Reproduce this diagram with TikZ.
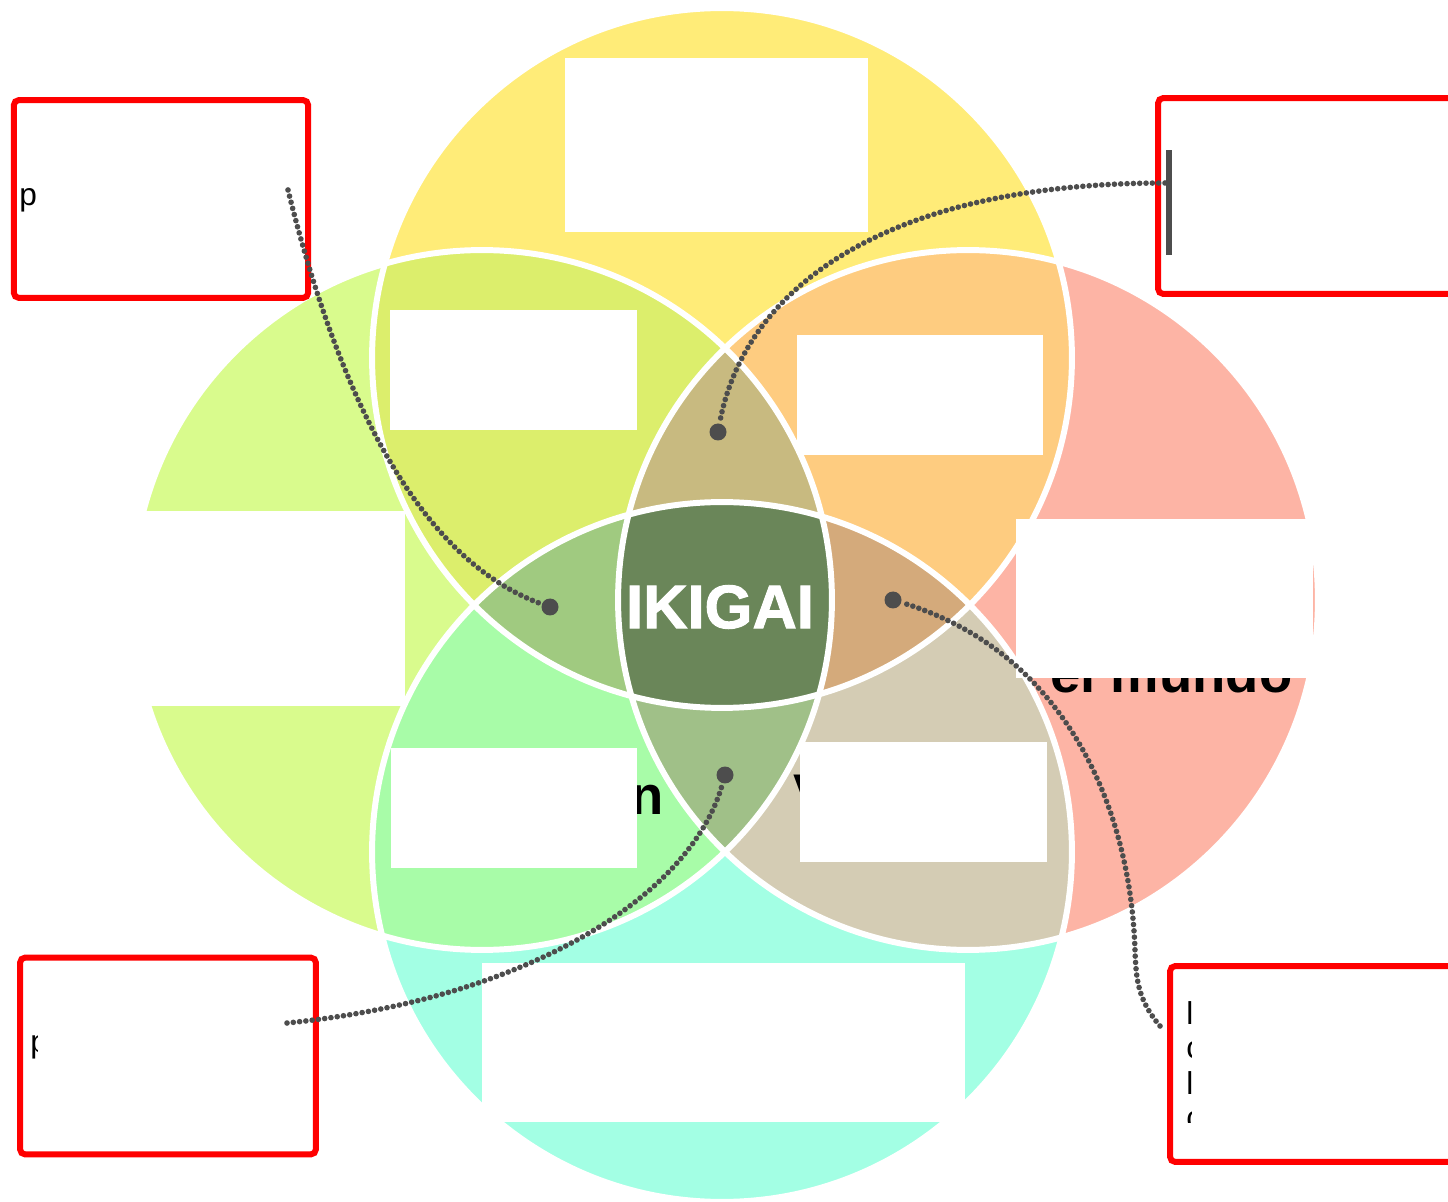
\documentclass[tikz,border=0pt]{standalone}
\usepackage{fontspec}
\setmainfont{Liberation Sans}
\newfontfamily\ikifont{Liberation Sans Bold}[FakeBold=1.6]
\usetikzlibrary{calc}

\definecolor{colT}{RGB}{255,236,120}
\definecolor{colL}{RGB}{217,251,141}
\definecolor{colR}{RGB}{253,180,165}
\definecolor{colB}{RGB}{163,255,228}
\definecolor{colTL}{RGB}{220,238,108}
\definecolor{colTR}{RGB}{254,204,128}
\definecolor{colLB}{RGB}{168,252,168}
\definecolor{colRB}{RGB}{212,204,180}
\definecolor{colTLR}{RGB}{200,186,128}
\definecolor{colTLB}{RGB}{160,202,128}
\definecolor{colTRB}{RGB}{212,170,123}
\definecolor{colLRB}{RGB}{160,192,136}
\definecolor{colIki}{RGB}{106,134,89}
\definecolor{linkgray}{RGB}{77,77,77}

\tikzset{
  redbox/.style={draw=red, line width=3.4pt, rounded corners=3pt, fill=white},
  lazo/.style={draw=linkgray, line width=3.2pt, dash pattern=on 0pt off 3.6pt, line cap=round},
  punto/.style={circle, fill=linkgray, inner sep=0pt, minimum size=0.34cm},
  frag/.style={anchor=base west, inner sep=0pt, font=\fontsize{31}{31}\selectfont\bfseries},
  smallfrag/.style={anchor=base west, inner sep=0pt, font=\fontsize{18}{18}\selectfont},
}

\begin{document}
\begin{tikzpicture}[x=0.02cm,y=-0.02cm]
\useasboundingbox (0,0) rectangle (1448,1202);
\def\cT{(722,358) circle [radius=7cm]}
\def\cL{(482,600) circle [radius=7cm]}
\def\cR{(968,600) circle [radius=7cm]}
\def\cB{(722,852) circle [radius=7cm]}

% single circles
\fill[colT] \cT;
\fill[colL] \cL;
\fill[colR] \cR;
\fill[colB] \cB;
% pairs
\begin{scope} \clip \cT; \fill[colTL] \cL; \fill[colTR] \cR; \end{scope}
\begin{scope} \clip \cB; \fill[colLB] \cL; \fill[colRB] \cR; \end{scope}
% triples
\begin{scope} \clip \cT; \clip \cL; \fill[colTLR] \cR; \end{scope}
\begin{scope} \clip \cT; \clip \cL; \fill[colTLB] \cB; \end{scope}
\begin{scope} \clip \cT; \clip \cR; \fill[colTRB] \cB; \end{scope}
\begin{scope} \clip \cL; \clip \cR; \fill[colLRB] \cB; \end{scope}
% centre
\begin{scope} \clip \cT; \clip \cL; \clip \cR; \fill[colIki] \cB; \end{scope}

\foreach \p in {(722,358),(482,600),(968,600),(722,852)}
  \draw[white, line width=3.4pt] \p circle [radius=7cm];

\node[text=white, font=\fontsize{35}{35}\selectfont\ikifont] (ikigai) at (720,607) {IKIGAI};

% fragments of the covered words
\node[frag] (fragMundo) at (1050,693) {el mundo};
\node[frag] (fragN) at (630,814) {n};
\node[frag] (fragV) at (793,812) {V};

% white covers
\foreach \a/\b in {{(565,58)}/{(868,232)}, {(390,310)}/{(637,430)}, {(797,335)}/{(1043,455)},
                   {(122,511)}/{(405,706)}, {(1016,519)}/{(1313,678)}, {(391,748)}/{(637,868)},
                   {(800,742)}/{(1047,862)}, {(482,963)}/{(965,1122)}}
  \fill[white] \a rectangle \b;

% answer boxes
\node[redbox, minimum width=5.89cm, minimum height=3.96cm] (boxPasion) at (161,199) {};
\node[redbox, minimum width=6.24cm, minimum height=3.92cm] (boxMision) at (1314,196) {};
\node[redbox, minimum width=5.92cm, minimum height=3.94cm] (boxProfesion) at (168,1056) {};
\node[redbox, minimum width=6.20cm, minimum height=3.92cm] (boxVocacion) at (1325,1064) {};

\node[smallfrag] (pPasion) at (19,206) {p};
\begin{scope}
  \clip (25,1000) rectangle (37,1080);
  \node[smallfrag] (pProfesion) at (30,1052) {p};
\end{scope}
\begin{scope}
  \clip (1180,990) rectangle (1191,1122);
  \foreach \t/\y in {l/1024,c/1058,l/1094,c/1128}
    \node[smallfrag] at (1186,\y) {\t};
\end{scope}
\fill[linkgray] (1166,150) rectangle (1172,255);

% connectors
\coordinate (startPasion) at (288,190);
\coordinate (startMision) at (1165,183);
\coordinate (startProfesion) at (287,1023);
\coordinate (startVocacion) at (1160,1026);
\node[punto] (dotPasion) at (550,607) {};
\node[punto] (dotMision) at (718,432) {};
\node[punto] (dotProfesion) at (725,775) {};
\node[punto] (dotVocacion) at (893,600) {};

\draw[lazo] (startPasion) .. controls (340,400) and (420,560) .. (dotPasion);
\draw[lazo] (startMision) .. controls (890,183) and (745,285) .. (dotMision);
\draw[lazo] (startProfesion) .. controls (520,1000) and (690,900) .. (dotProfesion);
\draw[lazo] (startVocacion) .. controls (1138,1000) and (1136,980) .. (1135,950)
            .. controls (1130,800) and (1060,650) .. (dotVocacion);
\end{tikzpicture}
\end{document}
